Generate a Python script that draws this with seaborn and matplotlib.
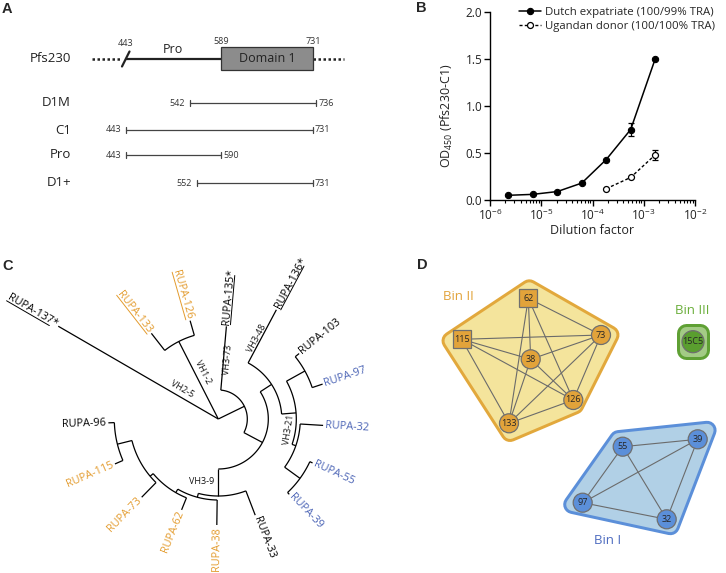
import numpy as np
import pandas as pd
import matplotlib
matplotlib.use("Agg")
import matplotlib.pyplot as plt
import seaborn as sns
import matplotlib.patheffects as pe
from matplotlib.patches import Polygon, Circle, Rectangle
from matplotlib.textpath import TextPath
from matplotlib.font_manager import FontProperties
from matplotlib.ticker import LogLocator, NullFormatter

sns.set_theme(style="ticks")
plt.rcParams['font.family'] = ['Open Sans', 'DejaVu Sans']
plt.rcParams['mathtext.fontset'] = 'custom'
plt.rcParams['mathtext.rm'] = 'Open Sans'
plt.rcParams['mathtext.it'] = 'Open Sans:italic'
plt.rcParams['mathtext.bf'] = 'Open Sans:bold'

W, H = 726, 573
DPI = 100
PX = 72.0 / DPI  # points per pixel

# ---------------- Panel A data ----------------
pfs_pro_start = 443
pfs_domain_start = 589
pfs_domain_end = 731
construct_names = ["D1M", "C1", "Pro", "D1+"]
construct_starts = [542, 443, 443, 552]
construct_ends = [736, 731, 590, 731]

# ---------------- Panel B data ----------------
series_names = ["Dutch expatriate (100/99% TRA)", "Ugandan donor (100/100% TRA)"]
dilution_dutch = [2.29e-6, 6.86e-6, 2.06e-5, 6.17e-5, 1.85e-4, 5.56e-4, 1.67e-3]
od_dutch = [0.05, 0.06, 0.09, 0.18, 0.43, 0.75, 1.50]
sem_dutch = [0, 0, 0, 0, 0, 0.07, 0]
dilution_uganda = [1.85e-4, 5.56e-4, 1.67e-3]
od_uganda = [0.12, 0.24, 0.48]
sem_uganda = [0, 0, 0.05]
x_tick_values = [1e-6, 1e-5, 1e-4, 1e-3, 1e-2]
x_tick_labels = [r"$10^{-6}$", r"$10^{-5}$", r"$10^{-4}$", r"$10^{-3}$", r"$10^{-2}$"]
y_tick_values = [0.0, 0.5, 1.0, 1.5, 2.0]
y_tick_labels = ["0.0", "0.5", "1.0", "1.5", "2.0"]

# ---------------- Panel C data (radial tree, angle deg / radius) ----------------
tree_nodes = {
    "root": (None, 0, 0),
    "N12": ("root", 117, 87),
    "NA": ("root", 26, 29),
    "NB": ("NA", -28, 50),
    "NC": ("NB", 33, 63.5),
    "ND": ("NC", 4.5, 78),
    "NE": ("ND", 29, 99),
    "NF": ("ND", -19, 82),
    "NG": ("NF", -36, 101),
    "NH": ("NB", -90, 77),
    "NK": ("NH", -105, 81),
    "NL": ("NK", -120, 85),
    "NM": ("NL", -140, 89),
    "NJ": ("NM", -166, 104),
}
leaf_names = ["RUPA-137*", "RUPA-133", "RUPA-126", "RUPA-135*", "RUPA-136*",
              "RUPA-103", "RUPA-97", "RUPA-32", "RUPA-55", "RUPA-39",
              "RUPA-33", "RUPA-38", "RUPA-62", "RUPA-73", "RUPA-115", "RUPA-96"]
leaf_parents = ["root", "N12", "N12", "NA", "NC",
                "NE", "NE", "NF", "NG", "NG",
                "NH", "NK", "NL", "NM", "NJ", "NJ"]
leaf_angles = [149.9, 128, 106, 85, 62,
               39, 18.5, -3.5, -25, -46.7,
               -69, -90.8, -112, -134.4, -156.5, -178]
leaf_radii = [185, 108.7, 102.3, 93, 123.7,
              104, 110, 105, 104, 103.5,
              103, 106, 98, 109.5, 112.7, 110]
leaf_groups = ["none", "bin2", "bin2", "none", "none",
               "none", "bin1", "bin1", "bin1", "bin1",
               "none", "bin2", "bin2", "bin2", "bin2", "none"]
leaf_underlined = [True, True, True, True, True] + [False] * 11
branch_labels = ["VH2-5", "VH1-2", "VH3-73", "VH3-48", "VH3-21", "VH3-9"]
branch_label_r = [47, 49.6, 59.7, 89.4, 71.8, 64.2]
branch_label_angle = [141, 107.6, 81.3, 64.6, -8.8, -105]
branch_label_rot = [-30, -63, 85, 62, 81, 0]

# ---------------- Panel D data (epitope bins) ----------------
bin2_nodes = ["62", "115", "73", "38", "126", "133"]
bin2_shapes = ["s", "s", "o", "o", "o", "o"]
bin2_x = [528.3, 461.7, 601.0, 530.7, 573.3, 509.0]
bin2_y = [298.3, 339.3, 335.0, 359.3, 400.0, 423.3]
bin2_edges = [("62", "73"), ("62", "38"), ("62", "126"), ("62", "133"),
              ("115", "73"), ("115", "38"), ("115", "126"), ("115", "133"),
              ("73", "38"), ("73", "126"), ("73", "133"),
              ("38", "126"), ("38", "133"), ("126", "133")]
bin1_nodes = ["55", "39", "97", "32"]
bin1_shapes = ["o", "o", "o", "o"]
bin1_x = [622.7, 697.7, 582.7, 666.7]
bin1_y = [446.7, 439.3, 502.7, 519.3]
bin1_edges = [("55", "39"), ("55", "97"), ("55", "32"), ("39", "97"), ("39", "32"), ("97", "32")]
bin3_nodes = ["15C5"]
bin3_shapes = ["o"]
bin3_x = [693.0]
bin3_y = [341.7]
bin3_edges = []

ORANGE_TXT = "#E39B2D"
BLUE_TXT = "#4A63B5"
group_colors = {"none": "black", "bin1": BLUE_TXT, "bin2": ORANGE_TXT}

fig = plt.figure(figsize=(W / DPI, H / DPI), dpi=DPI)
fig.patch.set_facecolor("white")

# overlay axes in pixel coordinates (for panels C and D)
ov = fig.add_axes([0, 0, 1, 1])
ov.set_xlim(0, W)
ov.set_ylim(H, 0)
ov.axis("off")

letter_kw = dict(fontsize=10.5, fontweight="bold", family=["Liberation Sans", "DejaVu Sans"],
                 ha="left", va="center")
ov.text(2, 9, "A", **letter_kw)
ov.text(416, 8, "B", **letter_kw)
ov.text(2, 266, "C", **letter_kw)
ov.text(417, 265, "D", **letter_kw)

# ---------------- Panel A ----------------
axA = fig.add_axes([0, 1 - 230 / H, 400 / W, 230 / H])
scaleA = 0.6493  # px per residue
axA.set_xlim(443 - 126 / scaleA, 443 + 274 / scaleA)
axA.set_ylim(230, 0)
axA.axis("off")
def apx(p):
    return p / scaleA

yP = 59
axA.text(443 - apx(55), yP, "Pfs230", ha="right", va="center", fontsize=9.5, color="#222222")
axA.plot([pfs_pro_start - apx(34), pfs_pro_start - apx(5)], [yP, yP], color="#222222",
         lw=1.8, ls=(0, (1, 1)))
axA.plot([pfs_domain_end, pfs_domain_end + apx(31)], [yP, yP], color="#222222",
         lw=1.8, ls=(0, (1, 1)))
axA.plot([pfs_pro_start, pfs_domain_start], [yP, yP], color="#222222", lw=1.6)
axA.plot([pfs_pro_start - apx(4), pfs_pro_start + apx(3.5)], [yP + 7.5, yP - 7.5],
         color="#222222", lw=1.6)
axA.add_patch(Rectangle((pfs_domain_start, 47), pfs_domain_end - pfs_domain_start, 23,
                        facecolor="#8C8C8C", edgecolor="#333333", lw=0.9, zorder=3))
axA.text((pfs_domain_start + pfs_domain_end) / 2, yP, "Domain 1", ha="center", va="center",
         fontsize=9, color="#222222", zorder=4)
axA.text(pfs_pro_start, 43, str(pfs_pro_start), ha="center", va="center", fontsize=6.5, color="#333333")
axA.text(pfs_pro_start + apx(47), 49.5, "Pro", ha="center", va="center", fontsize=9, color="#222222")
axA.text(pfs_domain_start, 41, str(pfs_domain_start), ha="center", va="center", fontsize=6.5, color="#333333")
axA.text(pfs_domain_end, 41, str(pfs_domain_end), ha="center", va="center", fontsize=6.5, color="#333333")

row_y = [103, 130, 155, 183]
for name, s, e, y in zip(construct_names, construct_starts, construct_ends, row_y):
    axA.text(443 - apx(55), y, name, ha="right", va="center", fontsize=9.5, color="#222222")
    axA.plot([s, e], [y, y], color="#444444", lw=0.9)
    axA.plot([s, s], [y - 3, y + 3], color="#444444", lw=0.9)
    axA.plot([e, e], [y - 3, y + 3], color="#444444", lw=0.9)
    axA.text(s - apx(5), y, str(s), ha="right", va="center", fontsize=6.5, color="#333333")
    axA.text(e + apx(2), y, str(e), ha="left", va="center", fontsize=6.5, color="#333333")

# ---------------- Panel B ----------------
axB = fig.add_axes([490 / W, 1 - 200 / H, 205 / W, 188 / H])
axB.patch.set_alpha(0)
df_dutch = pd.DataFrame({"Dilution factor": dilution_dutch, "OD": od_dutch})
df_uganda = pd.DataFrame({"Dilution factor": dilution_uganda, "OD": od_uganda})
sns.lineplot(data=df_dutch, x="Dilution factor", y="OD", ax=axB, color="black", lw=1.1,
             marker="o", markersize=4.5, markerfacecolor="black", markeredgecolor="black",
             markeredgewidth=0.8, label=series_names[0], errorbar=None, zorder=3)
sns.lineplot(data=df_uganda, x="Dilution factor", y="OD", ax=axB, color="black", lw=1.0,
             linestyle=(0, (2.2, 1.6)), marker="o", markersize=4.3, markerfacecolor="white",
             markeredgecolor="black", markeredgewidth=0.9, label=series_names[1],
             errorbar=None, zorder=3)
ex = [x for x, e in zip(dilution_dutch, sem_dutch) if e > 0] + \
     [x for x, e in zip(dilution_uganda, sem_uganda) if e > 0]
ey = [y for y, e in zip(od_dutch, sem_dutch) if e > 0] + \
     [y for y, e in zip(od_uganda, sem_uganda) if e > 0]
ee = [e for e in sem_dutch if e > 0] + [e for e in sem_uganda if e > 0]
axB.errorbar(ex, ey, yerr=ee, fmt="none", ecolor="black", elinewidth=0.9, capsize=2.2,
             capthick=0.9, zorder=2)
axB.set_xscale("log")
axB.set_xlim(1e-6, 1e-2)
axB.set_ylim(0, 2.0)
axB.set_xticks(x_tick_values)
axB.set_xticklabels(x_tick_labels)
axB.xaxis.set_minor_locator(LogLocator(base=10, subs=np.arange(2, 10)))
axB.xaxis.set_minor_formatter(NullFormatter())
axB.set_yticks(y_tick_values)
axB.set_yticklabels(y_tick_labels)
sns.despine(ax=axB)
for sp in ["left", "bottom"]:
    axB.spines[sp].set_color("black")
    axB.spines[sp].set_linewidth(1.0)
axB.tick_params(axis="both", which="major", direction="out", length=4, width=1.0,
                color="black", labelsize=8.5, labelcolor="#222222", pad=1.5)
axB.tick_params(axis="x", which="minor", direction="out", length=2.3, width=0.8, color="black")
axB.set_ylabel("OD$_{450}$ (Pfs230-C1)", fontsize=9, color="#222222")
axB.yaxis.set_label_coords(-0.17, 0.45)
axB.set_xlabel("Dilution factor", fontsize=9, color="#222222")
axB.xaxis.set_label_coords(0.5, -0.128)
handles, labels = axB.get_legend_handles_labels()
axB.legend(handles, labels, loc="upper left", bbox_to_anchor=(519 / W, 1 - 7 / H),
           bbox_transform=fig.transFigure, frameon=False, fontsize=8.2, handlelength=1.9,
           handletextpad=0.35, labelspacing=0.3, borderpad=0, borderaxespad=0)

# ---------------- Panel C ----------------
cx, cy = 218.3, 419.0
def pol(r, a):
    t = np.deg2rad(a)
    return cx + r * np.cos(t), cy - r * np.sin(t)

allnodes = dict(tree_nodes)
for nm, par, ang, rad in zip(leaf_names, leaf_parents, leaf_angles, leaf_radii):
    allnodes[nm] = (par, ang, rad)
children = {}
for nm, (par, ang, rad) in allnodes.items():
    if par is None:
        continue
    children.setdefault(par, []).append(nm)
    r0 = allnodes[par][2]
    x0, y0 = pol(r0, ang)
    x1, y1 = pol(rad, ang)
    ov.plot([x0, x1], [y0, y1], color="black", lw=0.9, solid_capstyle="butt")
for nm, kids in children.items():
    r = allnodes[nm][2]
    if r <= 0:
        continue
    angs = [allnodes[k][1] for k in kids]
    a = np.linspace(min(angs), max(angs), 80)
    xs, ys = pol(r, a)
    ov.plot(xs, ys, color="black", lw=0.9, solid_capstyle="butt")

leaf_fs = 7.8
fp_leaf = FontProperties(family="Open Sans", size=leaf_fs)
def tw(s):
    return TextPath((0, 0), s, prop=fp_leaf).get_extents().x1 * DPI / 72.0

for nm, ang, rad, grp, und in zip(leaf_names, leaf_angles, leaf_radii, leaf_groups, leaf_underlined):
    col = group_colors[grp]
    x, y = pol(rad + 2, ang)
    a = ((ang + 180) % 360) - 180
    if -90 < a < 90:
        rot, ha = a, "left"
    else:
        rot, ha = a + 180 if a < 0 else a - 180, "right"
    ov.text(x, y, nm, rotation=rot, rotation_mode="anchor", ha=ha, va="center",
            fontsize=leaf_fs, color=col)
    if und:
        rr = np.deg2rad(rot)
        u = np.array([np.cos(rr), -np.sin(rr)])
        n = np.array([np.sin(rr), np.cos(rr)])
        wf, wb = tw(nm), tw(nm.rstrip("*"))
        p = np.array([x, y])
        start = p if ha == "left" else p - wf * u
        end = start + wb * u
        off = n * 0.36 * leaf_fs * DPI / 72.0
        ov.plot([start[0] + off[0], end[0] + off[0]], [start[1] + off[1], end[1] + off[1]],
                color=col, lw=0.7)

for txt, r, a, rot in zip(branch_labels, branch_label_r, branch_label_angle, branch_label_rot):
    x, y = pol(r, a)
    ov.text(x, y, txt, rotation=rot, rotation_mode="anchor", ha="center", va="center",
            fontsize=6.5, color="#111111")

# ---------------- Panel D ----------------
def rounded_hull(verts, face, edge, radius_px, border_px):
    poly = Polygon(verts, closed=True, facecolor=face, edgecolor=face, lw=0.5, zorder=1)
    poly.set_path_effects([
        pe.Stroke(linewidth=2 * (radius_px + border_px) * PX, foreground=edge,
                  joinstyle="round", capstyle="round"),
        pe.Stroke(linewidth=2 * radius_px * PX, foreground=face, joinstyle="round",
                  capstyle="round"),
        pe.Normal()])
    ov.add_patch(poly)

bin2_hull = [(529.3, 288.8), (610.0, 335.0), (574.8, 405.0), (510.0, 432.5), (451.0, 340.8)]
bin1_hull = [(618.5, 439.6), (707.1, 430.3), (670.4, 525.7), (572.7, 504.5)]
bin3_hull = [(685.7, 333.0), (700.3, 333.0), (700.3, 350.4), (685.7, 350.4)]
rounded_hull(bin2_hull, "#F4E49C", "#E2A83C", 6.5, 3)
rounded_hull(bin1_hull, "#B1D0E6", "#5B8FD9", 6.5, 3)
rounded_hull(bin3_hull, "#A3CB85", "#5FA034", 6.5, 3)

def draw_bin(names, shapes, xs, ys, edges, face, rad):
    pos = {n: (x, y) for n, x, y in zip(names, xs, ys)}
    for a, b in edges:
        ov.plot([pos[a][0], pos[b][0]], [pos[a][1], pos[b][1]], color="#6b6b6b", lw=0.8, zorder=2)
    for n, s, x, y in zip(names, shapes, xs, ys):
        if s == "s":
            ov.add_patch(Rectangle((x - 9, y - 9), 18, 18, facecolor=face, edgecolor="#6f6f6f",
                                   lw=0.9, zorder=3))
        else:
            ov.add_patch(Circle((x, y), rad, facecolor=face, edgecolor="#6f6f6f", lw=0.9, zorder=3))
        ov.text(x, y, n, ha="center", va="center", fontsize=6.5, color="#262626", zorder=4)

draw_bin(bin2_nodes, bin2_shapes, bin2_x, bin2_y, bin2_edges, "#E2A33A", 9.5)
draw_bin(bin1_nodes, bin1_shapes, bin1_x, bin1_y, bin1_edges, "#5B8FD9", 9.5)
draw_bin(bin3_nodes, bin3_shapes, bin3_x, bin3_y, bin3_edges, "#5A9E2F", 11)

ov.text(458, 297, "Bin II", ha="center", va="center", fontsize=9.5, color="#E2A33A")
ov.text(692, 310, "Bin III", ha="center", va="center", fontsize=9.5, color="#6AAE3A")
ov.text(608, 540, "Bin I", ha="center", va="center", fontsize=9.5, color="#4E6CC0")

fig.savefig("out.png", dpi=DPI, facecolor="white")
